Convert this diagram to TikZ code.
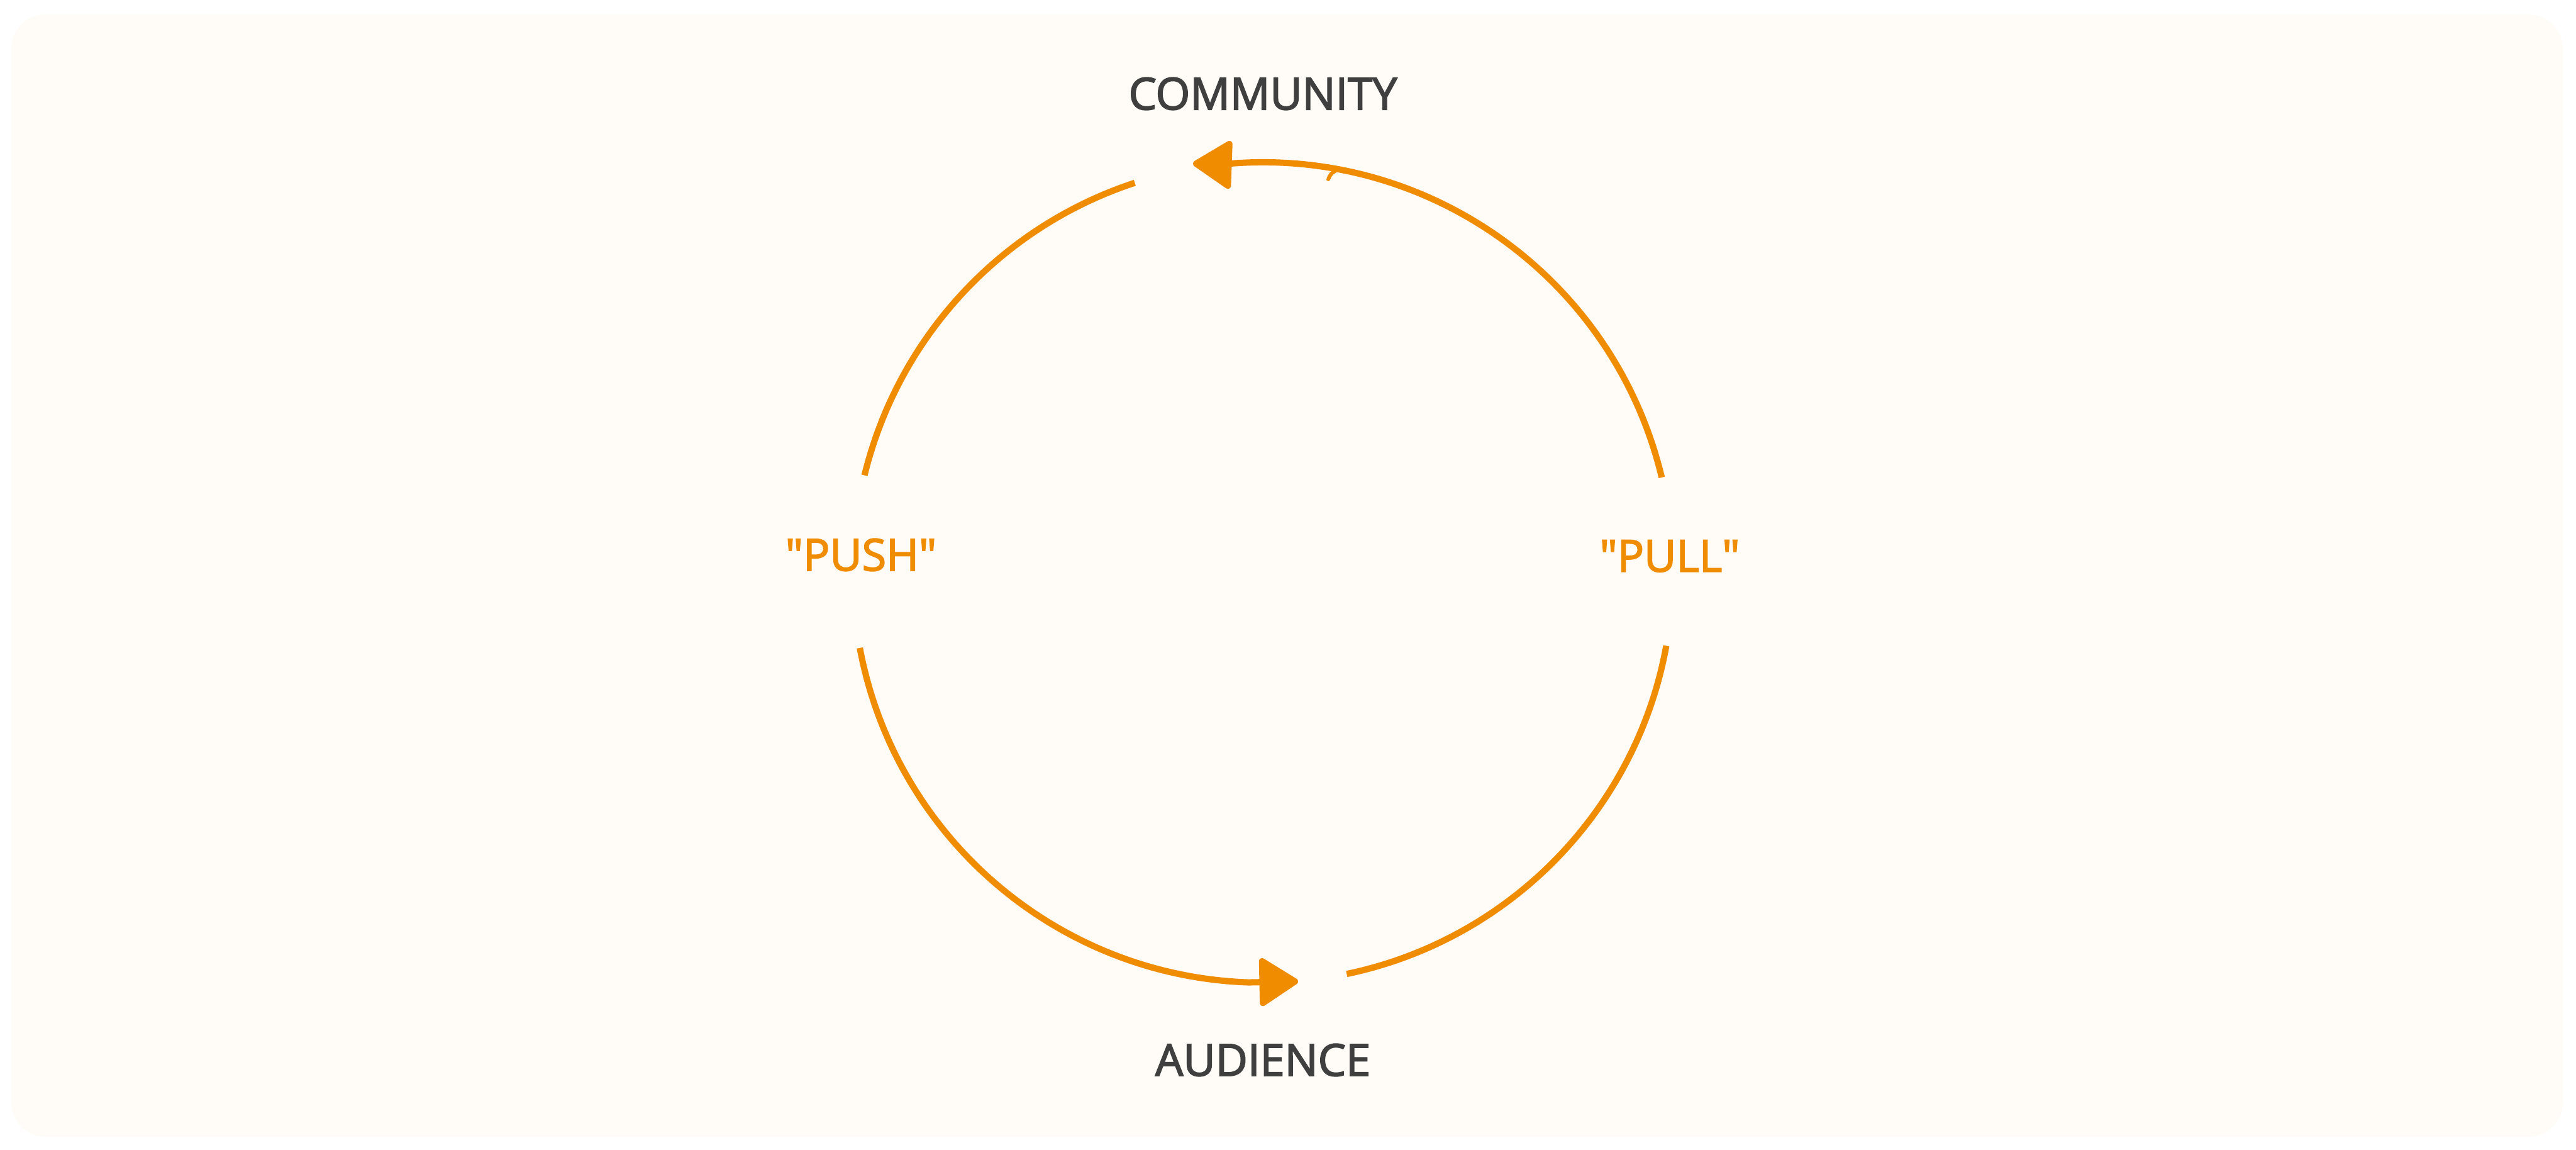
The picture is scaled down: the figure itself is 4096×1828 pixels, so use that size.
\documentclass[tikz,border=0pt]{standalone}
\usepackage{fontspec}
\setmainfont{Open Sans}
\newfontfamily\handfont{Open Sans}[FakeBold=2.5]
\usetikzlibrary{arrows.meta}
\definecolor{bgc}{HTML}{FFFCF7}
\definecolor{orng}{HTML}{F08C00}
\definecolor{ink}{HTML}{3F3F3F}
\begin{document}
\begin{tikzpicture}[x=0.01cm,y=0.01cm,
  loopline/.style={draw=orng, line width=0.1cm, line cap=butt},
  tipped/.style={loopline, -{Triangle[length=0.66cm,width=0.82cm,round]}},
  title/.style={text=ink, font=\handfont\fontsize{20pt}{24pt}\selectfont, inner sep=0pt},
  force/.style={text=orng, font=\handfont\fontsize{20pt}{24pt}\selectfont, inner sep=0pt}]
\useasboundingbox (0,0) rectangle (4096,1828);
\fill[bgc, rounded corners=0.55cm] (18,21) rectangle (4075,1805);

% labels
\node[title] (community) at (2008,1679) {COMMUNITY};
\node[title] (audience) at (2008,143) {AUDIENCE};
\node[force] (push) at (1369,946) {\textquotedbl PUSH\textquotedbl};
\node[force] (pull) at (2655,944) {\textquotedbl PULL\textquotedbl};

% centre of the loop, arc end points and arrow tips
\coordinate (c) at (2008,918);
\path (c) ++(166.3:652) coordinate (tl1);
\path (c) ++(13.4:652) coordinate (tr1);
\path (c) ++(190.6:652) coordinate (bl1);
\path (c) ++(-10.3:652) coordinate (br1);
\coordinate (toptip) at (1897,1568);
\coordinate (bottip) at (2064,268);

% connectors
\draw[loopline] (tl1) arc[start angle=166.3, end angle=108.2, radius=652];
\draw[tipped] (tr1) arc[start angle=13.4, end angle=96, radius=652] -- (toptip);
\draw[tipped] (bl1) arc[start angle=190.6, end angle=268, radius=652] -- (bottip);
\draw[loopline] (br1) arc[start angle=-10.3, end angle=-78.2, radius=652];

% small stroke artefact near the top arrow
\coordinate (hk1) at (2126,1558);
\coordinate (hk2) at (2112,1543);
\draw[orng, line width=0.06cm, line cap=round] (hk1) .. controls (2116,1552) .. (hk2);
\end{tikzpicture}
\end{document}
